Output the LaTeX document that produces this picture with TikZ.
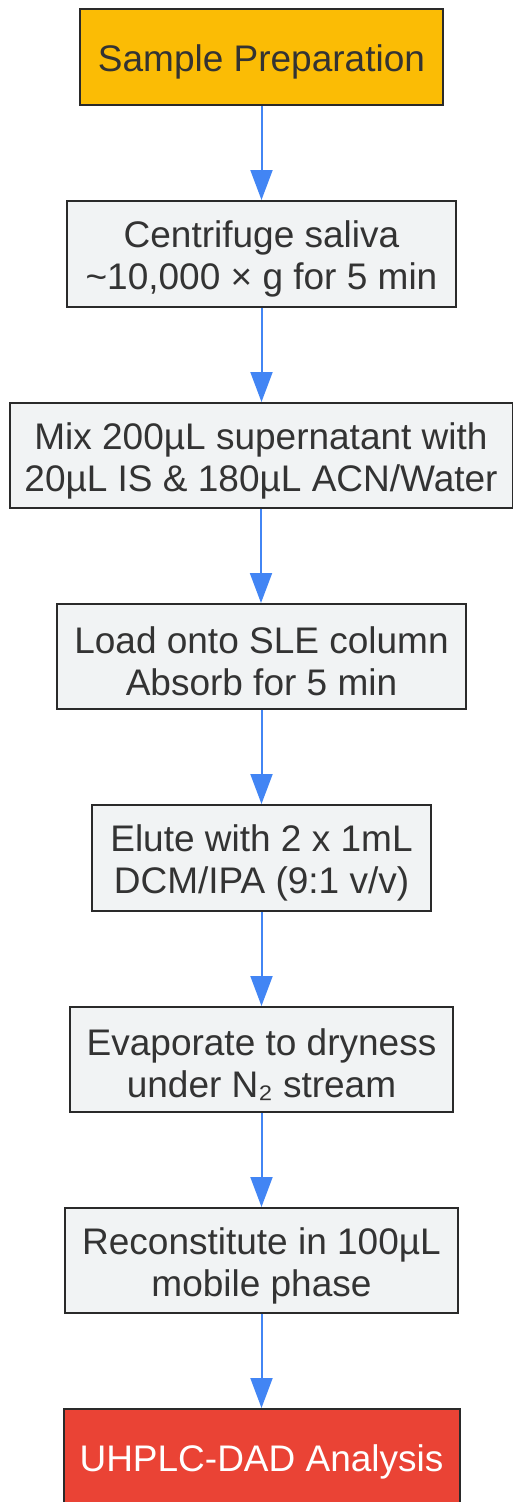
\documentclass[tikz,border=0pt]{standalone}
\usepackage{fontspec}
\setmainfont{Liberation Sans}
\usetikzlibrary{arrows.meta}
\definecolor{boxfill}{HTML}{F1F3F4}
\definecolor{boxline}{HTML}{2A2A2A}
\definecolor{txt}{HTML}{333333}
\definecolor{startfill}{HTML}{FBBC05}
\definecolor{endfill}{HTML}{EA4335}
\definecolor{arr}{HTML}{4285F4}
\begin{document}
\begin{tikzpicture}[x=1pt,y=-1pt,
  stepbox/.style={draw=boxline, line width=2pt, fill=boxfill, inner sep=0pt},
  steplabel/.style={align=center, text=txt, inner sep=0pt, yshift=-5pt,
    font=\fontsize{37}{42}\selectfont},
  flow/.style={draw=arr, line width=2pt, -{Triangle[width=22pt,length=30pt]}}]
\useasboundingbox (0,0) rectangle (513,1502);
\node[stepbox, fill=startfill, minimum width=363pt, minimum height=96pt,
  label={[steplabel]center:Sample Preparation}] (b1) at (261.5,57) {};
\node[stepbox, minimum width=389pt, minimum height=106pt,
  label={[steplabel]center:Centrifuge saliva\\{\char"7E}10,000 × g for 5 min}] (b2) at (261.5,254) {};
\node[stepbox, minimum width=503pt, minimum height=105pt,
  label={[steplabel]center:Mix 200µL supernatant with\\20µL IS \& 180µL ACN/Water}] (b3) at (261,455.5) {};
\node[stepbox, minimum width=409pt, minimum height=105pt,
  label={[steplabel]center:Load onto SLE column\\Absorb for 5 min}] (b4) at (261.5,656.5) {};
\node[stepbox, minimum width=339pt, minimum height=106pt,
  label={[steplabel]center:Elute with 2 x 1mL\\DCM/IPA (9:1 v/v)}] (b5) at (261.5,858) {};
\node[stepbox, minimum width=383pt, minimum height=105pt,
  label={[steplabel]center:Evaporate to dryness\\under N₂ stream}] (b6) at (261.5,1059.5) {};
\node[stepbox, minimum width=393pt, minimum height=105pt,
  label={[steplabel]center:Reconstitute in 100µL\\mobile phase}] (b7) at (261.5,1260.5) {};
\node[stepbox, fill=endfill, minimum width=396pt, minimum height=96pt,
  label={[steplabel, text=white]center:UHPLC-DAD Analysis}] (b8) at (261.5,1457) {};
\foreach \a/\b in {b1/b2,b2/b3,b3/b4,b4/b5,b5/b6,b6/b7,b7/b8}
  \draw[flow] (\a.south) -- (\a.south |- \b.north);
\end{tikzpicture}
\end{document}
